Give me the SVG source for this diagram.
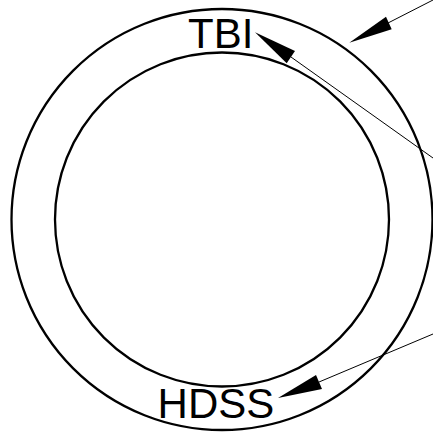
<svg xmlns="http://www.w3.org/2000/svg" width="433" height="432" viewBox="0 0 433 432">
<style>
.ring{fill:none;stroke:#000;stroke-width:2.300}
.lbl{font-family:"Liberation Sans",Arial,sans-serif;font-size:42px;fill:#000}
.lead{fill:none;stroke:#000;stroke-width:1}
.head{fill:#000;stroke:none}
</style>
<rect width="433" height="432" fill="#fff"/>
<g id="outer-ring"><circle class="ring" cx="222" cy="219.5" r="210.5"/></g>
<g id="inner-ring"><circle class="ring" cx="222" cy="219.5" r="167"/></g>
<g id="tbi"><text class="lbl" x="188" y="47.500">TBI</text></g>
<g id="hdss"><text class="lbl" x="157.600" y="417.700">HDSS</text></g>
<g id="connectors">
<path class="lead" d="M388 23L433 0"/>
<polygon class="head" points="349.300,42.700 386,16.700 391.700,29.300"/>
<path class="lead" d="M291 57L433 158"/>
<polygon class="head" points="255,32.300 295,51 286.700,63.300"/>
<path class="lead" d="M319 382L433 334"/>
<polygon class="head" points="278,398 316,375 322,389"/>
</g>
</svg>
